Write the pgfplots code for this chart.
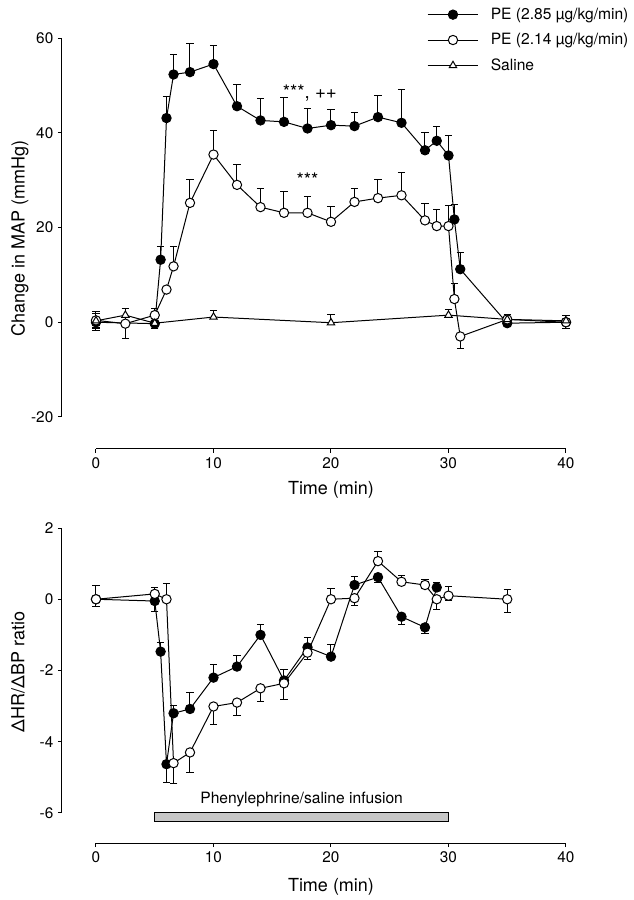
\documentclass[border=0pt]{standalone}
\usepackage{fontspec}
\setmainfont{TeX Gyre Heros}
\usepackage{pgfplots}
\usepackage{pgfplotstable}
\pgfplotsset{compat=1.18}

% top: change in MAP
\pgfplotstableread{
t v ep em
0 0 2.2 1.7
5 -0.3 0 1.0
5.5 13.2 2.7 0
6 43.1 4.5 0
6.6 52.3 4.3 0
8 52.8 6.0 0
10 54.5 4.0 0
12 45.6 4.6 0
14 42.6 4.6 0
16 42.3 5.1 0
18 40.9 4.2 0
20 41.6 3.3 0
22 41.4 2.8 0
24 43.3 4.5 0
26 42.1 7.0 0
28 36.3 3.8 0
29 38.3 3.1 0
30 35.2 4.2 0
30.5 21.7 3.1 0
31 11.2 3.5 0
35 -0.2 0.8 0.8
40 0 1.5 1.3
}\topA
\pgfplotstableread{
t v ep em
0 0.4 1.8 1.8
2.5 -0.3 0 3.2
5 1.5 1.4 0
6 6.9 0 0
6.6 11.8 4.1 0
8 25.2 4.9 0
10 35.4 5.0 0
12 29.0 4.4 0
14 24.3 4.0 0
16 23.1 4.6 0
18 23.1 3.5 0
20 21.2 3.2 0
22 25.4 2.8 0
24 26.2 4.0 0
26 26.8 4.9 0
28 21.5 3.5 0
29 20.3 3.4 0
30 20.3 4.3 0
30.5 4.9 3.3 0
31 -3.0 0 2.5
35 0.6 1.0 0.5
40 0 1.4 1.4
}\topB
\pgfplotstableread{
t v ep em
0 0.3 1.5 1.5
2.5 1.5 1.5 1.5
5 -0.2 0 0
10 1.1 1.3 0
20 -0.1 1.8 0
30 1.5 1.1 0
35 0.6 0 0
40 0.3 0 0
}\topC

% bottom: HR/BP ratio
\pgfplotstableread{
t v ep em
0 0 0 0
5 -0.05 0 0.3
5.5 -1.47 0.27 0
6 -4.63 0 0.5
6.6 -3.2 0.23 0
8 -3.08 0.47 0
10 -2.2 0.36 0
12 -1.89 0.3 0
14 -1.0 0.3 0
16 -2.28 0.3 0
18 -1.35 0.28 0
20 -1.61 0.35 0
22 0.4 0.23 0
24 0.62 0 0.15
26 -0.49 0 0.23
28 -0.79 0 0.17
29 0.33 0.15 0
}\botA
\pgfplotstableread{
t v ep em
0 0 0.4 0.2
5 0.15 0.17 0
6 0 0.45 0
6.6 -4.6 0 0.58
8 -4.3 0 0.56
10 -3.01 0 0.5
12 -2.9 0 0.35
14 -2.5 0 0.37
16 -2.36 0 0.44
18 -1.5 0 0.2
20 0 0.3 0
22 0.03 0 0.2
24 1.07 0.28 0
26 0.49 0.17 0
28 0.4 0.16 0
29 0 0 0.3
30 0.1 0.26 0.14
35 0 0.28 0.36
}\botB

\pgfplotsset{
  myaxis/.style={
    scale only axis, width=352.5pt,
    xmin=0, xmax=40, enlargelimits=false, clip=false,
    axis x line=bottom, axis y line=left,
    axis line style={-, line width=0.75pt},
    axis y line shift=25.5pt,
    tick align=outside, major tick length=3pt,
    tick style={line width=0.75pt, black},
    xtick={0,10,20,30,40},
    /pgf/number format/assume math mode=true,
    tick label style={font=\fontsize{11.5}{13}\selectfont},
    xlabel={Time (min)},
    label style={font=\fontsize{13.5}{15}\selectfont},
    ylabel style={anchor=center},
    xlabel style={anchor=center},
    error bars/error bar style={line width=0.75pt, black},
    error bars/error mark options={rotate=90, mark size=2.8pt, line width=0.75pt, black},
    legend image code/.code={\draw[mark repeat=2, mark phase=2, #1] plot coordinates {(0pt,0pt) (19pt,0pt) (38pt,0pt)};},
  },
  filled/.style={black, line width=0.75pt, mark=*, mark size=3.5pt, mark options={fill=black, line width=0.75pt}},
  open/.style={black, line width=0.75pt, mark=*, mark size=3.5pt, mark options={fill=white, line width=0.75pt}},
  tri/.style={black, line width=0.75pt, mark=triangle*, mark size=3.2pt, mark options={fill=white, line width=0.75pt}},
  eb/.style={error bars/.cd, y dir=both, y explicit},
}

\begin{document}
\begin{tikzpicture}[x=1pt,y=1pt]
\useasboundingbox (0,0) rectangle (474.75,675);

\begin{axis}[myaxis,
  at={(72pt,362.25pt)}, anchor=south west,
  height=284.25pt,
  ymin=-20, ymax=60, ytick={-20,0,20,40,60},
  axis x line shift=24pt,
  ylabel={Change in MAP (mmHg)},
  ylabel style={at={(axis description cs:-0.162,0.47)}},
  xlabel style={at={(axis description cs:0.5,-0.193)}},
  legend style={draw=none, fill=none, at={(0.704,1.087)}, anchor=north west,
    font=\fontsize{11.7}{13}\selectfont, row sep=5pt, inner sep=0pt,
    cells={anchor=west}},
]
\addplot[filled, eb] table[x=t, y=v, y error plus=ep, y error minus=em] {\topA};
\addlegendentry{\hspace{7pt}PE (2.85 µg/kg/min)}
\addplot[open, eb] table[x=t, y=v, y error plus=ep, y error minus=em] {\topB};
\addlegendentry{\hspace{7pt}PE (2.14 µg/kg/min)}
\addplot[tri, eb] table[x=t, y=v, y error plus=ep, y error minus=em] {\topC};
\addlegendentry{\hspace{7pt}Saline}
\node[font=\fontsize{14}{15}\selectfont] at (axis cs:18.2,48.4) {***, ++};
\node[font=\fontsize{14}{15}\selectfont] at (axis cs:18,30.0) {***};
\end{axis}

\begin{axis}[myaxis,
  at={(72pt,65.25pt)}, anchor=south west,
  height=213.75pt,
  ymin=-6, ymax=2, ytick={-6,-4,-2,0,2},
  axis x line shift=22.5pt,
  ylabel={ΔHR/ΔBP ratio},
  ylabel style={at={(axis description cs:-0.166,0.495)}},
  xlabel style={at={(axis description cs:0.5,-0.26)}},
]
\addplot[fill=black!22, draw=black, line width=0.75pt] coordinates {(5,-6) (30,-6) (30,-6.24) (5,-6.24)} -- cycle;
\node[font=\fontsize{11.7}{13}\selectfont] at (axis cs:17.5,-5.61) {Phenylephrine/saline infusion};
\addplot[filled, eb] table[x=t, y=v, y error plus=ep, y error minus=em] {\botA};
\addplot[open, eb] table[x=t, y=v, y error plus=ep, y error minus=em] {\botB};
\end{axis}
\end{tikzpicture}
\end{document}
